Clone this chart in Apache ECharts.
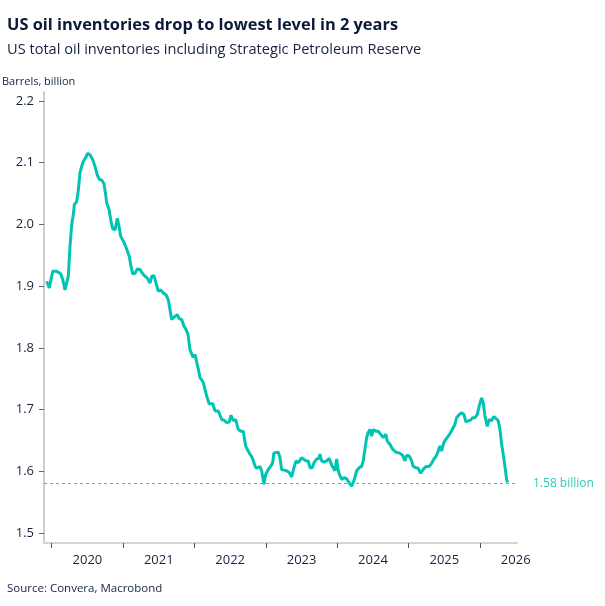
<!DOCTYPE html>
<html>

<head>
  <meta charset="utf-8">
  <script src="https://cdn.jsdelivr.net/npm/echarts@6.0.0/dist/echarts.min.js"></script>
  <title>US oil inventories</title>
</head>

<body style="margin: 0; overflow: hidden;">
  <div id="main" style="width: 605px; height: 606px;"></div>
  <script>
    // weekly-ish readings, decimal years
    var years = [
      2019.930, 2019.966, 2020.014, 2020.070, 2020.126, 2020.154, 2020.186, 2020.210, 2020.232, 2020.256,
      2020.280, 2020.303, 2020.317, 2020.350, 2020.373, 2020.396, 2020.420, 2020.443, 2020.480, 2020.499,
      2020.536, 2020.574, 2020.606, 2020.639, 2020.667, 2020.700, 2020.732, 2020.756, 2020.770, 2020.803,
      2020.831, 2020.854, 2020.887, 2020.919, 2020.943, 2020.966, 2020.994, 2021.017, 2021.041, 2021.064,
      2021.087, 2021.111, 2021.134, 2021.167, 2021.199, 2021.237, 2021.269, 2021.307, 2021.339, 2021.377,
      2021.401, 2021.433, 2021.461, 2021.493, 2021.527, 2021.563, 2021.601, 2021.633, 2021.657, 2021.681,
      2021.703, 2021.727, 2021.759, 2021.787, 2021.821, 2021.853, 2021.881, 2021.909, 2021.937, 2021.979,
      2022.007, 2022.049, 2022.077, 2022.123, 2022.171, 2022.207, 2022.255, 2022.287, 2022.333, 2022.381,
      2022.413, 2022.451, 2022.487, 2022.511, 2022.543, 2022.577, 2022.613, 2022.647, 2022.683, 2022.717,
      2022.739, 2022.777, 2022.810, 2022.847, 2022.871, 2022.894, 2022.917, 2022.941, 2022.973, 2022.997,
      2023.034, 2023.067, 2023.095, 2023.113, 2023.141, 2023.174, 2023.198, 2023.221, 2023.254, 2023.291,
      2023.328, 2023.361, 2023.394, 2023.422, 2023.454, 2023.478, 2023.501, 2023.524, 2023.562, 2023.594,
      2023.618, 2023.650, 2023.678, 2023.711, 2023.744, 2023.758, 2023.782, 2023.814, 2023.852, 2023.888,
      2023.922, 2023.944, 2023.968, 2023.992, 2024.014, 2024.038, 2024.062, 2024.098, 2024.132, 2024.164,
      2024.202, 2024.234, 2024.272, 2024.308, 2024.342, 2024.364, 2024.388, 2024.412, 2024.434, 2024.458,
      2024.482, 2024.504, 2024.542, 2024.574, 2024.608, 2024.644, 2024.682, 2024.700, 2024.738, 2024.776,
      2024.822, 2024.868, 2024.916, 2024.948, 2024.972, 2025.008, 2025.042, 2025.064, 2025.102, 2025.134,
      2025.168, 2025.204, 2025.242, 2025.289, 2025.322, 2025.354, 2025.382, 2025.415, 2025.438, 2025.462,
      2025.494, 2025.522, 2025.555, 2025.588, 2025.616, 2025.648, 2025.672, 2025.709, 2025.742, 2025.775,
      2025.802, 2025.835, 2025.868, 2025.896, 2025.929, 2025.961, 2025.989, 2026.022, 2026.045, 2026.069,
      2026.101, 2026.129, 2026.162, 2026.195, 2026.223, 2026.255, 2026.279, 2026.303, 2026.335, 2026.373,
      2026.386
    ];
    // barrels, billion
    var inventories = [
      1.908, 1.897, 1.924, 1.924, 1.920, 1.911, 1.894, 1.893, 1.916, 1.964,
      2.000, 2.016, 2.032, 2.037, 2.056, 2.083, 2.094, 2.102, 2.109, 2.115,
      2.113, 2.105, 2.094, 2.080, 2.073, 2.072, 2.066, 2.048, 2.035, 2.024,
      2.005, 1.993, 1.991, 2.010, 1.997, 1.981, 1.978, 1.970, 1.963, 1.962,
      1.948, 1.932, 1.920, 1.921, 1.928, 1.927, 1.921, 1.916, 1.913, 1.905,
      1.916, 1.917, 1.905, 1.892, 1.894, 1.889, 1.886, 1.878, 1.862, 1.846,
      1.843, 1.851, 1.854, 1.847, 1.846, 1.835, 1.830, 1.822, 1.797, 1.785,
      1.789, 1.768, 1.752, 1.744, 1.722, 1.709, 1.710, 1.698, 1.698, 1.684,
      1.683, 1.679, 1.680, 1.691, 1.682, 1.684, 1.668, 1.665, 1.665, 1.641,
      1.636, 1.628, 1.622, 1.609, 1.605, 1.603, 1.608, 1.601, 1.579, 1.595,
      1.603, 1.608, 1.614, 1.630, 1.633, 1.631, 1.622, 1.603, 1.602, 1.601,
      1.598, 1.591, 1.606, 1.617, 1.614, 1.612, 1.622, 1.624, 1.617, 1.617,
      1.606, 1.606, 1.615, 1.620, 1.621, 1.628, 1.617, 1.615, 1.617, 1.621,
      1.610, 1.612, 1.601, 1.620, 1.601, 1.593, 1.587, 1.590, 1.588, 1.582,
      1.576, 1.585, 1.601, 1.606, 1.608, 1.617, 1.636, 1.655, 1.663, 1.668,
      1.657, 1.668, 1.665, 1.665, 1.660, 1.655, 1.660, 1.649, 1.644, 1.636,
      1.631, 1.630, 1.626, 1.617, 1.626, 1.625, 1.617, 1.608, 1.606, 1.605,
      1.597, 1.603, 1.608, 1.608, 1.613, 1.620, 1.624, 1.633, 1.641, 1.633,
      1.647, 1.652, 1.657, 1.663, 1.665, 1.676, 1.687, 1.692, 1.695, 1.692,
      1.680, 1.682, 1.683, 1.687, 1.687, 1.692, 1.706, 1.719, 1.711, 1.690,
      1.673, 1.684, 1.682, 1.689, 1.690, 1.682, 1.668, 1.644, 1.620, 1.587,
      1.582
    ];
    var yearTicks = [2020, 2021, 2022, 2023, 2024, 2025, 2026];
    var yearLabels = [2020.5, 2021.5, 2022.5, 2023.5, 2024.5, 2025.5, 2026.5];
    var valueTicks = [1.5, 1.6, 1.7, 1.8, 1.9, 2.0, 2.1, 2.2];
    var latest = 1.58;

    var font = 'Open Sans';
    var ink = '#16233f';
    var teal = '#00c4b3';

    var myChart = echarts.init(document.getElementById('main'));

    var points = [];
    for (let i = 0; i < years.length; ++i) {
      points.push([years[i], inventories[i]]);
    }

    var option = {
      animation: false,
      title: [
        {
          text: 'US oil inventories drop to lowest level in 2 years',
          subtext: 'US total oil inventories including Strategic Petroleum Reserve',
          left: 7,
          top: 17,
          padding: 0,
          itemGap: 9,
          textStyle: { fontFamily: font, fontWeight: 'bold', fontSize: 16.4, color: '#0b1a3a' },
          subtextStyle: { fontFamily: font, fontSize: 14.6, color: ink }
        },
        {
          text: 'Barrels, billion',
          left: 2,
          top: 76,
          padding: 0,
          textStyle: { fontFamily: font, fontWeight: 'normal', fontSize: 11, color: ink }
        },
        {
          text: 'Source: Convera, Macrobond',
          left: 7,
          top: 583,
          padding: 0,
          textStyle: { fontFamily: font, fontWeight: 'normal', fontSize: 11.5, color: ink }
        }
      ],
      grid: {
        left: 44,
        right: 88,
        top: 92,
        bottom: 63
      },
      xAxis: {
        type: 'value',
        min: 2019.892,
        max: 2026.518,
        splitLine: { show: false },
        axisLine: { show: true, lineStyle: { color: '#d4d4d4', width: 2 } },
        axisTick: {
          show: true,
          customValues: yearTicks,
          length: 5,
          lineStyle: { color: '#555' }
        },
        axisLabel: {
          customValues: yearLabels,
          formatter: function (v) { return Math.floor(v).toString(); },
          margin: 11,
          fontFamily: font,
          fontSize: 13,
          color: ink
        }
      },
      yAxis: {
        type: 'value',
        min: 1.484,
        max: 2.2145,
        splitLine: { show: false },
        axisLine: { show: true, lineStyle: { color: '#bdbdbd', width: 1.5 } },
        axisTick: {
          show: true,
          customValues: valueTicks,
          length: 5,
          lineStyle: { color: '#666' }
        },
        axisLabel: {
          customValues: valueTicks,
          formatter: function (v) { return v.toFixed(1); },
          margin: 10,
          fontFamily: font,
          fontSize: 13,
          color: ink
        }
      },
      series: [
        {
          type: 'line',
          data: points,
          showSymbol: false,
          lineStyle: { color: teal, width: 3 },
          markLine: {
            silent: true,
            symbol: ['none', 'none'],
            lineStyle: { color: '#999', type: [3, 3], width: 1 },
            label: {
              position: 'end',
              distance: 16,
              formatter: latest + ' billion',
              fontFamily: font,
              fontSize: 12,
              color: '#2ec8b8'
            },
            data: [{ yAxis: latest }]
          }
        }
      ]
    };

    myChart.setOption(option);
  </script>
</body>

</html>
